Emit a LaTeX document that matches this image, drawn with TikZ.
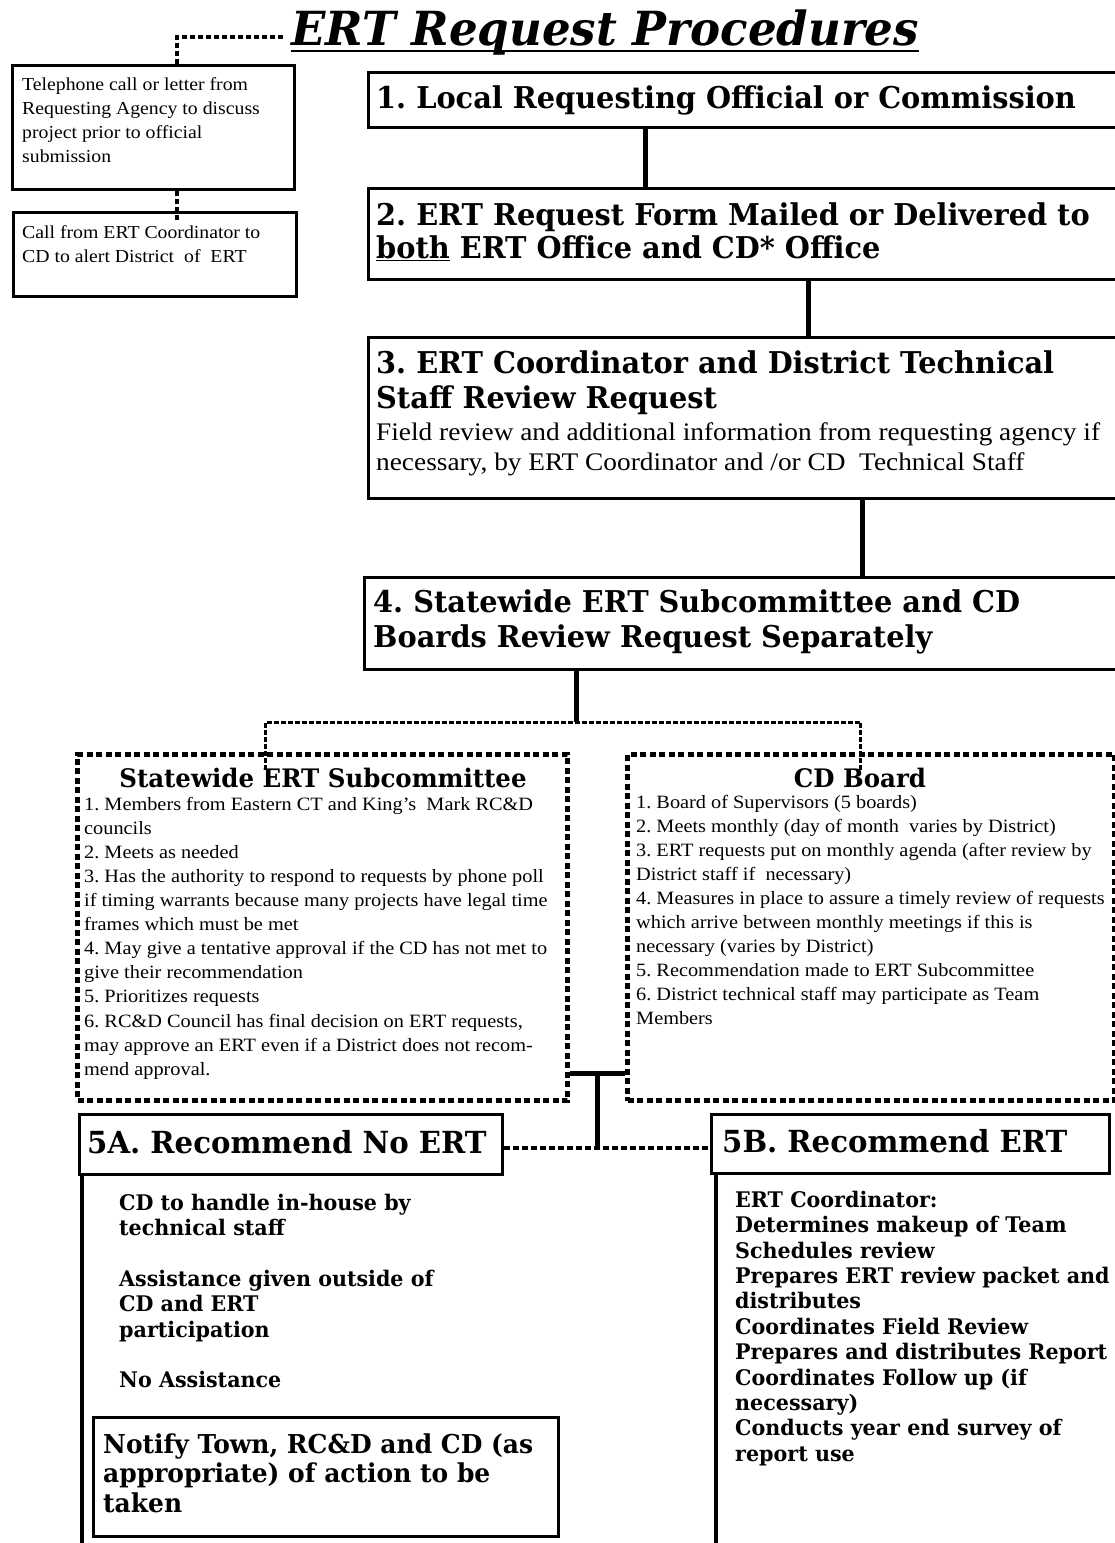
\documentclass[tikz,border=0pt]{standalone}
\usepackage{fontspec}
\setmainfont{Liberation Serif}[FakeStretch=1.08]
\newfontfamily\hfont{DejaVu Serif}[FakeStretch=0.96]
\begin{document}
\frenchspacing
\begin{tikzpicture}[x=1pt,y=-1pt,
  solidbox/.style={draw, line width=3pt, inner sep=0pt, anchor=north west},
  dashbox/.style={draw, line width=5pt, dash pattern=on 6pt off 3.5pt, inner sep=0pt, anchor=north west},
  bodytext/.style={inner sep=0pt, anchor=north west, align=left},
  headtext/.style={inner sep=0pt, anchor=base west},
  conn/.style={line width=5pt},
  thinconn/.style={line width=4pt},
  dotconn/.style={line width=4pt, dash pattern=on 5pt off 3pt},
  bracket/.style={line width=3pt, dash pattern=on 5pt off 2pt},
  bighead/.style={font=\hfont\bfseries\fontsize{30}{35}\selectfont},
  smalltext/.style={font=\fontsize{18.8}{24.1}\selectfont},
  boldlist/.style={font=\hfont\bfseries\fontsize{21.5}{25.4}\selectfont}
]
\useasboundingbox (0,0) rectangle (1115,1543);

% title
\node[headtext, font=\hfont\bfseries\itshape\fontsize{47}{52}\selectfont] (title) at (291,45) {ERT Request Procedures};
\draw[line width=2.5pt] ([yshift=-6pt]title.base west) -- ([yshift=-6pt]title.base east);

% left pre-boxes
\node[solidbox, minimum width=282pt, minimum height=124pt] (tbox) at (11,64) {};
\node[bodytext, font=\fontsize{18.3}{24}\selectfont] (ttext) at (22,73.2) {\strut Telephone call or letter from\\Requesting Agency to discuss\\project prior to official\\submission};
\node[solidbox, minimum width=283pt, minimum height=84pt] (cbox) at (12,211) {};
\node[bodytext, font=\fontsize{18.3}{24}\selectfont] (ctext) at (22,221.2) {\strut Call from ERT Coordinator to\\CD to alert District\ \ of\ \ ERT};

\draw[dotconn] ([xshift=-8pt,yshift=8pt]title.base west) -| ([xshift=23pt]tbox.north);
\draw[dotconn] ([xshift=23pt]tbox.south) -- ([xshift=21.5pt,yshift=-9pt]cbox.north);

% main boxes
\node[solidbox, minimum width=750pt, minimum height=55pt] (b1) at (367,71) {};
\node[headtext, bighead] (t1) at (376,108) {1. Local Requesting Official or Commission};

\node[solidbox, minimum width=750pt, minimum height=91pt] (b2) at (367,187) {};
\node[bodytext, font=\hfont\bfseries\fontsize{30}{33}\selectfont] (t2) at (376,201.9) {\strut 2. ERT Request Form Mailed or Delivered to\\\underline{both} ERT Office and CD* Office};

\node[solidbox, minimum width=750pt, minimum height=161pt] (b3) at (367,336) {};
\node[bodytext, font=\hfont\bfseries\fontsize{30}{35}\selectfont] (t3) at (376,348.5) {\strut 3. ERT Coordinator and District Technical\\Staff Review Request};
\node[bodytext, font=\fontsize{25.3}{30}\selectfont] (t3b) at (376,419) {\strut Field review and additional information from requesting agency if\\necessary, by ERT Coordinator and /or CD\ \ Technical Staff};

\node[solidbox, minimum width=754pt, minimum height=92pt] (b4) at (363,576) {};
\node[bodytext, font=\hfont\bfseries\fontsize{30}{35}\selectfont] (t4) at (373,587.5) {\strut 4. Statewide ERT Subcommittee and CD\\Boards Review Request Separately};

\draw[conn] (b1.south -| 645,0) -- (b2.north -| 645,0);
\draw[conn] (b2.south -| 808,0) -- (b3.north -| 808,0);
\draw[conn] (b3.south -| 862,0) -- (b4.north -| 862,0);

% dashed boxes
\node[dashbox, minimum width=490pt, minimum height=346pt] (lbox) at (75,752) {};
\node[dashbox, minimum width=487pt, minimum height=346pt] (rbox) at (625,752) {};

\coordinate (j4) at (576,722);
\draw[conn] (b4.south -| j4) -- (j4);
\draw[bracket] ([xshift=-57pt,yshift=-18pt]lbox.north) |- (j4) -| ([xshift=-10.5pt,yshift=-18pt]rbox.north);

\node[anchor=base, inner sep=0pt, font=\hfont\bfseries\fontsize{25.5}{28}\selectfont] (lhead) at (323,787) {Statewide ERT Subcommittee};
\node[bodytext, smalltext] (ltext) at (84,793.1) {\strut 1. Members from Eastern CT and King’s\ \ Mark RC\&D\\councils\\2. Meets as needed\\3. Has the authority to respond to requests by phone poll\\if timing warrants because many projects have legal time\\frames which must be met\\4. May give a tentative approval if the CD has not met to\\give their recommendation\\5. Prioritizes requests\\6. RC\&D Council has final decision on ERT requests,\\may approve an ERT even if a District does not recom-\\mend approval.};

\node[anchor=base, inner sep=0pt, font=\hfont\bfseries\fontsize{25.5}{28}\selectfont] (rhead) at (860,787) {CD Board};
\node[bodytext, smalltext] (rtext) at (636,791) {\strut 1. Board of Supervisors (5 boards)\\2. Meets monthly (day of month\ \ varies by District)\\3. ERT requests put on monthly agenda (after review by\\District staff if\ \ necessary)\\4. Measures in place to assure a timely review of requests\\which arrive between monthly meetings if this is\\necessary (varies by District)\\5. Recommendation made to ERT Subcommittee\\6. District technical staff may participate as Team\\Members};

% step 5
\node[solidbox, minimum width=423pt, minimum height=60pt] (b5a) at (78,1113) {};
\node[headtext, font=\hfont\bfseries\fontsize{30.4}{36}\selectfont] (t5a) at (87,1153) {5A. Recommend No ERT};
\node[solidbox, minimum width=398pt, minimum height=59pt] (b5b) at (710,1113) {};
\node[headtext, font=\hfont\bfseries\fontsize{30.4}{36}\selectfont] (t5b) at (722,1152) {5B. Recommend ERT};

\coordinate (j5) at (597,1073);
\coordinate (j6) at (597,1148);
\draw[conn] (lbox.east |- j5) -- (rbox.west |- j5);
\draw[conn] (j5) -- (j6);
\draw[dotconn, dash pattern=on 6pt off 3pt] (b5a.east |- j6) -- (b5b.west |- j6);

\draw[thinconn] ([xshift=4pt]b5a.south west) -- ++(0,375);
\draw[thinconn] ([xshift=6pt]b5b.south west) -- ++(0,375);

\node[bodytext, boldlist] (l5a) at (119,1192.2) {\strut CD to handle in-house by\\technical staff\\\strut\\Assistance given outside of\\CD and ERT\\participation\\\strut\\No Assistance};

\node[solidbox, minimum width=465pt, minimum height=119pt] (nbox) at (92,1416) {};
\node[bodytext, font=\hfont\bfseries\fontsize{26}{29.5}\selectfont] (ntext) at (103,1432.3) {\strut Notify Town, RC\&D and CD (as\\appropriate) of action to be\\taken};

\node[bodytext, boldlist] (l5b) at (735,1189.4) {\strut ERT Coordinator:\\Determines makeup of Team\\Schedules review\\Prepares ERT review packet and\\distributes\\Coordinates Field Review\\Prepares and distributes Report\\Coordinates Follow up (if\\necessary)\\Conducts year end survey of\\report use};
\end{tikzpicture}
\end{document}
